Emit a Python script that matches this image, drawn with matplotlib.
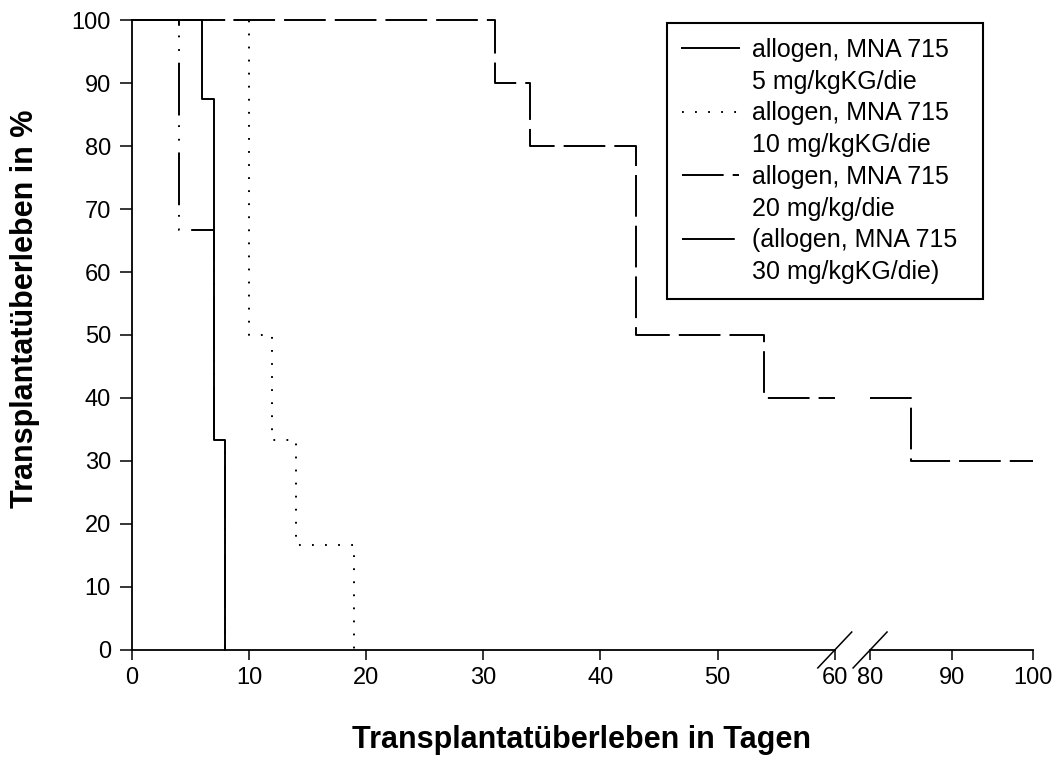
import numpy as np
import matplotlib
matplotlib.use("Agg")
import matplotlib.pyplot as plt
from matplotlib.lines import Line2D

plt.rcParams["font.family"] = ["Liberation Sans", "DejaVu Sans"]
plt.rcParams["lines.scale_dashes"] = False

# Kaplan-Meier steps: day of event, % grafts surviving from that day on
days_5 = [0, 6, 7, 8]
surv_5 = [100, 87.5, 33.3, 0]
days_10 = [0, 10, 12, 14, 19]
surv_10 = [100, 50, 33.3, 16.7, 0]
days_20 = [0, 31, 34, 43, 54, 85, 100]
surv_20 = [100, 90, 80, 50, 40, 30, 30]
days_30 = [0, 4, 7, 8]
surv_30 = [100, 66.7, 33.3, 0]

legend_lines = [
    ("allogen, MNA 715", "5 mg/kgKG/die"),
    ("allogen, MNA 715", "10 mg/kgKG/die"),
    ("allogen, MNA 715", "20 mg/kg/die"),
    ("(allogen, MNA 715", "30 mg/kgKG/die)"),
]

xticks_left = [0, 10, 20, 30, 40, 50, 60]
xticks_right = [80, 90, 100]
yticks = [0, 10, 20, 30, 40, 50, 60, 70, 80, 90, 100]


def window(days, surv, lo, hi):
    """Cut a step series to [lo, hi], adding the boundary values."""
    d = np.asarray(days, float)
    s = np.asarray(surv, float)
    hi = min(hi, d[-1])
    if hi <= lo:
        return None
    keep = (d > lo) & (d < hi)
    xs = np.concatenate([[lo], d[keep], [hi]])
    ys = np.concatenate([[s[d <= lo][-1]], s[keep], [s[d <= hi][-1]]])
    return xs, ys


fig = plt.figure(figsize=(10.54, 7.58), dpi=100)
ax_l = fig.add_axes([0.1250, 0.1425, 0.6670, 0.8311])
ax_r = fig.add_axes([0.8255, 0.1425, 0.1547, 0.8311])

series = [
    (days_30, surv_30, dict(dashes=(38, 7, 1.3, 8.5, 1.3, 8.5))),
    (days_20, surv_20, dict(dashes=(30, 6.5))),
    (days_10, surv_10, dict(dashes=(1.3, 8.1))),
    (days_5, surv_5, dict(linestyle="-")),
]

handles = {}
for ax, lo, hi in ((ax_l, 0, 60), (ax_r, 80, 100)):
    for days, surv, style in series:
        cut = window(days, surv, lo, hi)
        if cut is None:
            continue
        ln, = ax.step(cut[0], cut[1], where="post", color="black", lw=1.4,
                      dash_capstyle="butt", clip_on=False, **style)
        handles.setdefault(id(days), ln)
    ax.set_xlim(lo, hi)
    ax.set_ylim(0, 100)
    for side in ("top", "right"):
        ax.spines[side].set_visible(False)
    ax.spines["bottom"].set_linewidth(1.3)
    ax.spines["left"].set_linewidth(1.3)
    ax.tick_params(axis="x", direction="out", length=7, width=1.1,
                   labelsize=17, pad=5)

ax_l.set_xticks(xticks_left)
ax_r.set_xticks(xticks_right)
ax_l.set_yticks(yticks)
ax_l.tick_params(axis="y", direction="out", length=9, width=1.1,
                 labelsize=17, pad=6)
ax_r.spines["left"].set_visible(False)
ax_r.set_yticks([])

# break marks on the day axis
for ax, xpos in ((ax_l, 1.0), (ax_r, 0.0)):
    bb = ax.get_position()
    dx = 0.0161 / bb.width
    dy = 0.0237 / bb.height
    ax.plot([xpos - dx, xpos + dx], [-dy, dy], transform=ax.transAxes,
            color="black", lw=1.1, clip_on=False)

fig.text(0.552, 0.0132, "Transplantatüberleben in Tagen", ha="center",
         va="baseline", fontsize=22, fontweight="bold")
fig.text(0.024, 0.592, "Transplantatüberleben in %", ha="center",
         va="center", rotation=90, fontsize=22, fontweight="bold")

blank = Line2D([], [], linestyle="none")
leg_handles = []
leg_labels = []
for days, (first, second) in zip([days_5, days_10, days_20, days_30],
                                 legend_lines):
    leg_handles += [handles[id(days)], blank]
    leg_labels += [first, second]

leg = fig.legend(leg_handles, leg_labels, loc="upper left",
                 bbox_to_anchor=(0.6328, 0.9697, 0.2998, 0.0), mode="expand",
                 fontsize=18, frameon=True, fancybox=False, framealpha=1,
                 edgecolor="black", borderpad=0.6, labelspacing=0.31,
                 handlelength=2.28, handletextpad=0.52, borderaxespad=0)
leg.get_frame().set_linewidth(1.5)

fig.savefig("out.png", dpi=100)
